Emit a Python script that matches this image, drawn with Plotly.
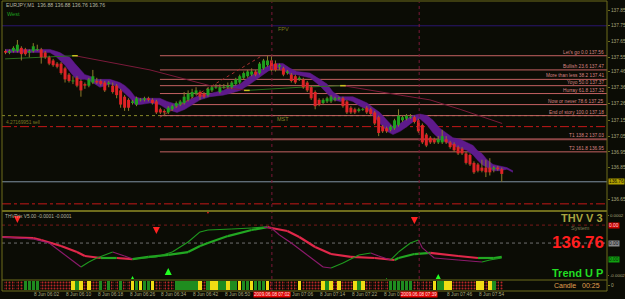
import plotly.graph_objects as go

W, H = 625, 299
def px(xp):
    return xp / W
def py(yp):
    return 1 - yp / H

# ---------------- DATA ----------------
bar_open = [137.59,137.58,137.59,137.59,137.61,137.60,137.58,137.59,137.60,137.60,
            137.58,137.55,137.53,137.51,137.51,137.48,137.44,137.40,137.42,137.40,
            137.38,137.37,137.39,137.40,137.40,137.39,137.38,137.37,137.37,137.34,
            137.30,137.28,137.26,137.25,137.28,137.28,137.29,137.28,137.27,137.22,
            137.21,137.20,137.22,137.24,137.25,137.26,137.28,137.30,137.32,137.33,
            137.32,137.31,137.34,137.36,137.33,137.36,137.36,137.36,137.38,137.39,
            137.42,137.43,137.44,137.46,137.45,137.48,137.50,137.53,137.51,137.49,
            137.48,137.45,137.44,137.43,137.41,137.41,137.39,137.36,137.33,137.28,
            137.26,137.27,137.27,137.28,137.29,137.29,137.27,137.23,137.22,137.21,
            137.22,137.23,137.22,137.20,137.17,137.11,137.10,137.09,137.10,137.12,
            137.15,137.16,137.17,137.17,137.15,137.12,137.06,137.04,137.03,137.01,
            137.01,137.03,137.01,137.00,136.98,136.97,136.94,136.93,136.88,136.87,
            136.85,136.85,136.85,136.84,136.85,136.84]
bar_high = [137.60,137.60,137.62,137.66,137.62,137.61,137.60,137.64,137.63,137.61,
            137.59,137.56,137.54,137.52,137.52,137.49,137.45,137.43,137.43,137.41,
            137.39,137.42,137.47,137.42,137.41,137.40,137.40,137.39,137.38,137.35,
            137.31,137.29,137.28,137.30,137.29,137.30,137.30,137.29,137.28,137.23,
            137.22,137.24,137.25,137.27,137.28,137.33,137.34,137.35,137.36,137.34,
            137.33,137.36,137.37,137.38,137.38,137.38,137.39,137.40,137.42,137.44,
            137.46,137.47,137.48,137.47,137.52,137.54,137.56,137.56,137.53,137.51,
            137.49,137.47,137.45,137.44,137.43,137.42,137.40,137.37,137.34,137.29,
            137.29,137.30,137.31,137.30,137.30,137.30,137.28,137.24,137.23,137.23,
            137.23,137.24,137.23,137.21,137.18,137.12,137.11,137.12,137.16,137.22,
            137.18,137.19,137.19,137.18,137.16,137.13,137.07,137.05,137.04,137.05,
            137.09,137.05,137.02,137.01,136.99,136.98,136.95,136.94,136.89,136.88,
            136.90,136.90,136.91,136.86,136.86,136.85]
bar_low = [137.57,137.57,137.58,137.58,137.53,137.56,137.55,137.58,137.59,137.51,
           137.54,137.50,137.49,137.48,137.44,137.39,137.39,137.38,137.36,137.30,
           137.35,137.36,137.38,137.38,137.37,137.33,137.36,137.32,137.29,137.23,
           137.21,137.21,137.25,137.24,137.27,137.27,137.27,137.25,137.19,137.19,
           137.18,137.19,137.21,137.23,137.24,137.25,137.27,137.29,137.31,137.28,
           137.29,137.30,137.33,137.35,137.32,137.35,137.35,137.35,137.37,137.38,
           137.41,137.42,137.43,137.43,137.44,137.47,137.49,137.46,137.46,137.47,
           137.43,137.44,137.39,137.38,137.40,137.35,137.33,137.28,137.22,137.24,
           137.25,137.26,137.26,137.27,137.28,137.23,137.19,137.19,137.19,137.20,
           137.21,137.19,137.18,137.12,137.05,137.07,137.07,137.08,137.09,137.11,
           137.14,137.15,137.16,137.13,137.07,137.00,136.98,137.00,137.00,137.00,
           137.00,137.00,136.97,136.95,136.93,136.93,136.87,136.86,136.81,136.82,
           136.82,136.79,136.80,136.82,136.83,136.76]
bar_close = [137.58,137.59,137.61,137.63,137.57,137.57,137.59,137.62,137.60,137.55,
             137.55,137.51,137.50,137.49,137.45,137.41,137.40,137.40,137.37,137.34,
             137.37,137.41,137.43,137.39,137.38,137.34,137.39,137.33,137.31,137.25,
             137.23,137.23,137.27,137.29,137.28,137.29,137.28,137.26,137.20,137.20,
             137.20,137.23,137.24,137.26,137.27,137.30,137.32,137.33,137.34,137.30,
             137.30,137.35,137.36,137.36,137.36,137.36,137.37,137.39,137.41,137.43,
             137.45,137.46,137.46,137.44,137.51,137.53,137.53,137.47,137.47,137.50,
             137.44,137.46,137.40,137.39,137.42,137.36,137.34,137.29,137.24,137.25,
             137.28,137.29,137.30,137.29,137.29,137.24,137.20,137.20,137.20,137.22,
             137.22,137.20,137.19,137.13,137.07,137.08,137.08,137.11,137.15,137.18,
             137.17,137.18,137.17,137.14,137.08,137.01,136.99,137.01,137.01,137.03,
             137.05,137.01,136.98,136.96,136.94,136.94,136.88,136.87,136.82,136.83,
             136.83,136.82,136.82,136.85,136.84,136.81]

# candle-state bar (R = sell, G = buy, Y = neutral)
candle_state = list("RRRRR" "GGGG" "RRRRRRRR" "YGYRYRRGRGRRGRRYGYGGY" "RRRRR" "GGGGGG"
                    "YRGYYGGYGGYGGYGGGY" "RRRRRRR" "Y" "RRRRR" "YGYRY" "RRR" "YGY"
                    "RRRRRR" "GGGGGG" "RRRRR" "YGGYY" "RRRRRR" "YYRYGRR")

# purple band (two averages)
band_x = [-0.1,6.2,11.2,12.5,13.7,15.0,16.2,17.5,18.8,20.0,21.3,22.5,23.8,25.1,26.3,27.6,28.8,30.1,31.4,32.6,
          33.9,36.4,38.9,40.7,43.2,45.2,47.0,49.0,51.5,54.8,56.5,59.1,61.6,63.4,64.9,66.6,68.4,69.9,71.7,73.4,
          76.7,79.2,81.0,82.5,84.3,86.0,87.5,89.3,91.1,92.6,94.3,96.1,97.6,99.4,101.1,102.6,104.4,106.2,107.7,109.4,
          111.2,112.7,114.5,116.2,117.8,118.8,120.0,121.3,122.8,124.5,126.3,127.8]
band_top = [137.60,137.60,137.60,137.59,137.58,137.56,137.55,137.51,137.47,137.44,
            137.43,137.41,137.41,137.41,137.41,137.40,137.39,137.37,137.34,137.30,
            137.29,137.29,137.29,137.27,137.25,137.27,137.29,137.31,137.32,137.34,
            137.36,137.38,137.43,137.46,137.48,137.50,137.51,137.51,137.48,137.46,
            137.45,137.41,137.38,137.33,137.30,137.30,137.30,137.28,137.26,137.23,
            137.20,137.15,137.11,137.13,137.16,137.18,137.19,137.18,137.15,137.10,
            137.07,137.04,137.03,137.01,136.99,136.96,136.94,136.90,136.87,136.86,
            136.85,136.83]
band_bot = [137.58,137.58,137.58,137.56,137.53,137.50,137.46,137.42,137.41,137.41,
            137.40,137.38,137.36,137.37,137.38,137.37,137.35,137.32,137.29,137.25,
            137.25,137.26,137.25,137.22,137.20,137.22,137.25,137.28,137.30,137.31,
            137.32,137.34,137.38,137.41,137.44,137.47,137.48,137.47,137.44,137.44,
            137.42,137.37,137.32,137.28,137.27,137.28,137.27,137.24,137.22,137.18,
            137.13,137.08,137.06,137.08,137.11,137.14,137.16,137.12,137.07,137.03,
            137.01,136.99,136.97,136.96,136.93,136.90,136.87,136.85,136.83,136.83,
            136.84,136.82]

# slow moving average (green rising / red falling)
ma_x = [-0.1, 8.7, 17.5, 36.4, 51.5, 60.8, 74.2, 85.0, 99.4, 106.9, 114.5, 125.1]
ma_y = [137.54, 137.55, 137.56, 137.47, 137.37, 137.34, 137.36, 137.37, 137.31, 137.28, 137.22, 137.13]

# fibonacci levels
fib_names = ["Let's go", "Bullish", "More than less", "Yoyo", "Hurray",
             "Now or never", "End of story", "T1", "T2"]
fib_pct = ["0.0", "23.6", "38.2", "50.0", "61.8", "78.6", "100.0", "138.2", "161.8"]
fib_price = [137.56, 137.47, 137.41, 137.37, 137.32, 137.25, 137.18, 137.03, 136.95]
fib_anchor_x = [38.9, 64.6]
fib_anchor_y = [137.17, 137.56]

pivot_fpv = 137.75
pivot_mst = 137.18
level_r = 137.11
level_s = 136.62
last_price = 136.76

price_ticks = [137.85, 137.75, 137.65, 137.55, 137.46, 137.36, 137.26,
               137.15, 137.05, 136.95, 136.85, 136.65]

# THV Trix indicator (values in 1e-5)
slow_x = [-1,7,9,14,18,20,24,28,32,36,41,46,49,51,56,62,66,67,71,74,78,82,87,93,98,99,103,107,114,119,123,125]
slow_v = [5.6,4.9,3.6,-0.3,-4.3,-6.9,-8.2,-8.2,-8.9,-7.5,-6.2,-4.3,-0.3,1.6,6.2,10.2,12.1,11.5,9.5,5.6,
          -1.0,-5.6,-7.5,-8.2,-9.5,-8.2,-5.6,-4.9,-6.9,-8.2,-8.2,-7.5]
fast_x = [-1,7,11,15,19,21,23,27,30,32,38,42,46,49,51,57,62,65,67,69,72,76,80,82,85,89,92,94,97,99,
          102,104,105,108,114,120,122,125]
fast_v = [5.6,4.3,1.6,-6.2,-14.1,-10.8,-8.2,-4.3,-6.9,-8.9,-7.5,-4.3,2.3,8.9,10.2,10.8,11.5,12.1,11.5,6.9,
          1.6,-6.2,-14.1,-14.8,-11.5,-6.2,-4.9,-6.9,-9.5,-4.3,1.6,3.6,-1.6,-8.2,-9.5,-10.8,-9.5,-8.2]
sell_x = [3, 38, 51, 103]
sell_v = [14.8, 7.5, 20.7, 14.1]
buy_x = [32, 41, 96, 109]
buy_v = [-20.0, -14.8, -21.3, -18.7]
ind_levels = [13.4, 1.6]

# visible time labels (the 06:58 and 07:38 ones are hidden under the cursor boxes)
time_idx = [-1, 7, 15, 23, 31, 39, 47, 55, 71, 79, 87, 95, 111, 119]
time_txt = ["8 Jun 2009", "8 Jun 06:02", "8 Jun 06:10", "8 Jun 06:18", "8 Jun 06:26",
            "8 Jun 06:34", "8 Jun 06:42", "8 Jun 06:50", "8 Jun 07:06",
            "8 Jun 07:14", "8 Jun 07:22", "8 Jun 07:30", "8 Jun 07:46",
            "8 Jun 07:54"]
vline_idx = [67.1, 104.2]
vline_txt = ["2009.06.08 07:02", "2009.06.08 07:39"]

# ---------------- STYLE ----------------
BG = "#0b0c05"
OLIVE = "#6e6c1c"
AXTXT = "#aaa67c"
FONT = "Liberation Sans"
BAND = "#5e1a8c"
UP = "#1fa01f"
DN = "#de2326"
WICK = "#8c7c2c"
FIBC = "#c46262"
TS = 4.8  # small MT4 text size

fig = go.Figure()

def add_colored(xs, ys, up_c, dn_c, width, yaxis):
    ux, uy, dx, dy = [], [], [], []
    for j in range(len(xs) - 1):
        if ys[j + 1] >= ys[j]:
            ux += [xs[j], xs[j + 1], None]; uy += [ys[j], ys[j + 1], None]
        else:
            dx += [xs[j], xs[j + 1], None]; dy += [ys[j], ys[j + 1], None]
    for X, Y, c in ((dx, dy, dn_c), (ux, uy, up_c)):
        fig.add_trace(go.Scatter(x=X, y=Y, mode="lines", yaxis=yaxis,
                                 line=dict(color=c, width=width), hoverinfo="skip"))

# band
fig.add_trace(go.Scatter(x=band_x, y=band_top, mode="lines", line=dict(color=BAND, width=0.5),
                         hoverinfo="skip"))
fig.add_trace(go.Scatter(x=band_x, y=band_bot, mode="lines", line=dict(color=BAND, width=0.5),
                         fill="tonexty", fillcolor=BAND, hoverinfo="skip"))

# moving average
add_colored(ma_x, ma_y, "#2c6e1c", "#7a1a3a", 1, "y")
turn = [2, 5, 7]
fig.add_trace(go.Scatter(x=[ma_x[k] for k in turn], y=[ma_y[k] for k in turn], mode="markers",
                         marker=dict(symbol="line-ew", size=4, line=dict(color="#c8c020", width=1.5)),
                         hoverinfo="skip"))

# fib anchor line
fig.add_trace(go.Scatter(x=fib_anchor_x, y=fib_anchor_y, mode="lines",
                         line=dict(color="#a83030", width=1, dash="dot"), hoverinfo="skip"))

# candles
n = len(bar_close)
wx, wy = [], []
gx, gy, rx, ry = [], [], [], []
for i in range(n):
    wx += [i, i, None]; wy += [bar_low[i], bar_high[i], None]
    o, c = bar_open[i], bar_close[i]
    if o == c:
        o, c = o - 0.003, c + 0.003
    if bar_close[i] >= bar_open[i]:
        gx += [i, i, None]; gy += [o, c, None]
    else:
        rx += [i, i, None]; ry += [o, c, None]
fig.add_trace(go.Scatter(x=wx, y=wy, mode="lines", line=dict(color=WICK, width=1), hoverinfo="skip"))
fig.add_trace(go.Scatter(x=gx, y=gy, mode="lines", line=dict(color=UP, width=3), hoverinfo="skip"))
fig.add_trace(go.Scatter(x=rx, y=ry, mode="lines", line=dict(color=DN, width=3), hoverinfo="skip"))

# indicator
add_colored(slow_x, [v * 1e-5 for v in slow_v], "#22a822", "#e0284a", 2.2, "y2")
add_colored(fast_x, [v * 1e-5 for v in fast_v], "#1f9a1f", "#8c1a6c", 1.1, "y2")
fig.add_trace(go.Scatter(x=sell_x, y=[v * 1e-5 for v in sell_v], mode="markers", yaxis="y2",
                         marker=dict(symbol="arrow-down", size=7, color="#ff2222"), hoverinfo="skip"))
fig.add_trace(go.Scatter(x=buy_x, y=[v * 1e-5 for v in buy_v], mode="markers", yaxis="y2",
                         marker=dict(symbol="arrow-up", size=7, color="#22ff22"), hoverinfo="skip"))

# candle-state bar
cmap = {"R": "#b82626", "G": "#1f8c1f", "Y": "#f0dc14"}
fig.add_trace(go.Bar(x=list(range(len(candle_state))), y=[1] * len(candle_state), yaxis="y3",
                     width=0.86, marker=dict(color=[cmap[s] for s in candle_state], line=dict(width=0),
                                             pattern=dict(shape=["." if s == "R" else "" for s in candle_state],
                                                          fgcolor="#6a0a0a", size=3, solidity=0.35)),
                     hoverinfo="skip"))

# ---------------- SHAPES ----------------
shapes = []
XR = 151.51
def hline(y, color, dash="solid", width=1, x0=-0.88, yref="y", layer="below"):
    shapes.append(dict(type="line", xref="x", yref=yref, x0=x0, x1=XR, y0=y, y1=y, layer=layer,
                       line=dict(color=color, width=width, dash=dash)))

hline(pivot_fpv, "#2a1670")
hline(pivot_mst, "#8a8a2a", dash="dot")
hline(level_r, "#c41818", dash="dashdot")
hline(last_price, "#7f93a3")
hline(level_s, "#c41818", dash="dashdot")
for k, p in enumerate(fib_price):
    hline(p, "#8c4646" if fib_names[k] == "T1" else FIBC, width=2 if fib_names[k] == "T1" else 1,
          x0=fib_anchor_x[0])
hline(ind_levels[0] * 1e-5, "#7a1a1a", dash="dot", yref="y2")
hline(ind_levels[1] * 1e-5, "#707070", dash="dot", yref="y2")

for v in vline_idx:
    shapes.append(dict(type="line", xref="x", yref="paper", x0=v, x1=v, y0=py(291), y1=py(2),
                       layer="above", line=dict(color="#7a1838", width=1, dash="dot")))

def pline(x0, y0, x1, y1, w=1, c=OLIVE):
    shapes.append(dict(type="line", xref="paper", yref="paper", x0=px(x0), x1=px(x1),
                       y0=py(y0), y1=py(y1), line=dict(color=c, width=w)))

pline(2, 1, 607, 1)
pline(2, 1, 2, 291)
pline(607, 1, 607, 291)
pline(2, 211, 607, 211, w=2)
pline(2, 280, 607, 280)
pline(2, 291, 607, 291)

# ---------------- ANNOTATIONS ----------------
ann = []
def txt(x, y, s, size=TS, color=AXTXT, xanchor="left", yanchor="middle", xref="paper", yref="paper",
        bold=False, bg=None, family=FONT):
    d = dict(x=x, y=y, xref=xref, yref=yref, text=("<b>%s</b>" % s) if bold else s, showarrow=False,
             xanchor=xanchor, yanchor=yanchor, font=dict(size=size, color=color, family=family),
             borderpad=0)
    if bg:
        d["bgcolor"] = bg
    ann.append(d)

txt(px(5), py(5), "EURJPY,M1  136.88 136.88 136.76 136.76", size=5.2, color="#b8b8a0")
txt(px(6), py(14), "West", size=5.5, color="#1fa01f")
txt(px(277), py(29), "FPV", size=5.5, color="#7a7a22")
txt(px(276), py(119), "MST", size=5.5, color="#8a8a2a")
txt(px(5), py(122.5), "4.27169951 sell", size=TS, color="#7c7a22")
for k, p in enumerate(fib_price):
    txt(px(605), p, "%s %s %.2f" % (fib_names[k], fib_pct[k], p), size=TS, color="#d88484",
        xanchor="right", yanchor="bottom", yref="y")
txt(px(608), last_price, "136.76", size=TS, color="#101000", yref="y", bg="#b0a000")

txt(px(4), py(216), "THVTrix V5.00 -0.0001 -0.0001", size=TS, color="#b4b4a0")
txt(px(608), ind_levels[0] * 1e-5, "0.00", size=TS, color="#ffdede", yref="y2", bg="#c80000")
txt(px(608), ind_levels[1] * 1e-5, "0.00", size=TS, color="#101010", yref="y2", bg="#8a8a8a")
txt(px(608), -8.9e-5, "0.00", size=TS, color="#0a2a0a", yref="y2", bg="#10a010")
txt(px(604), py(217.5), "THV V 3", size=11, color="#a9a440", xanchor="right", bold=True)
txt(px(580), py(227.8), "System", size=5.5, color="#7a7a52", xanchor="center")
txt(px(605), py(242.5), "136.76", size=17, color="#ff1e1e", xanchor="right", bold=True)
txt(px(604), py(273), "Trend U P", size=11, color="#22dd22", xanchor="right", bold=True)
txt(px(601), py(285), "Candle   00:25", size=7, color="#e0a050", xanchor="right")

for i, s in zip(time_idx, time_txt):
    txt(i, py(294.5), s, size=TS, color=AXTXT, xref="x")
for v, s in zip(vline_idx, vline_txt):
    txt(v, py(294.5), s, size=4.6, color="#ffe0e0", xref="x", xanchor="center", bg="#e00000")

# ---------------- LAYOUT ----------------
axfont = dict(size=TS, color=AXTXT, family=FONT)
fig.update_layout(
    width=W, height=H, margin=dict(l=0, r=0, t=0, b=0), template="none",
    paper_bgcolor=BG, plot_bgcolor=BG, showlegend=False, hovermode=False,
    font=dict(family=FONT), barmode="overlay", bargap=0,
    xaxis=dict(domain=[px(2), px(607)], range=[-0.88, XR], visible=False, fixedrange=True),
    yaxis=dict(domain=[py(210), py(2)], range=[136.581, 137.901], side="right", anchor="x",
               tickvals=price_ticks, ticktext=["%.2f" % v for v in price_ticks], tickfont=axfont,
               ticks="outside", ticklen=2, tickcolor=OLIVE, showgrid=False, zeroline=False,
               showline=False, automargin=False),
    yaxis2=dict(domain=[py(279), py(212)], range=[-0.00022, 0.00022], side="right", anchor="x",
                tickvals=[0.0002, -0.0002], ticktext=["0.0002", "-0.0002"],
                tickfont=dict(size=4.4, color=AXTXT, family=FONT),
                ticks="outside", ticklen=1, tickcolor=OLIVE, showgrid=False, zeroline=False,
                showline=False, automargin=False),
    yaxis3=dict(domain=[py(290), py(281)], range=[0, 1], side="right", anchor="x",
                tickvals=[0.5], ticktext=["0"], tickfont=axfont, ticks="outside", ticklen=2,
                tickcolor=OLIVE, showgrid=False, zeroline=False, showline=False, automargin=False),
    shapes=shapes, annotations=ann,
)

fig.write_html("out.html")
